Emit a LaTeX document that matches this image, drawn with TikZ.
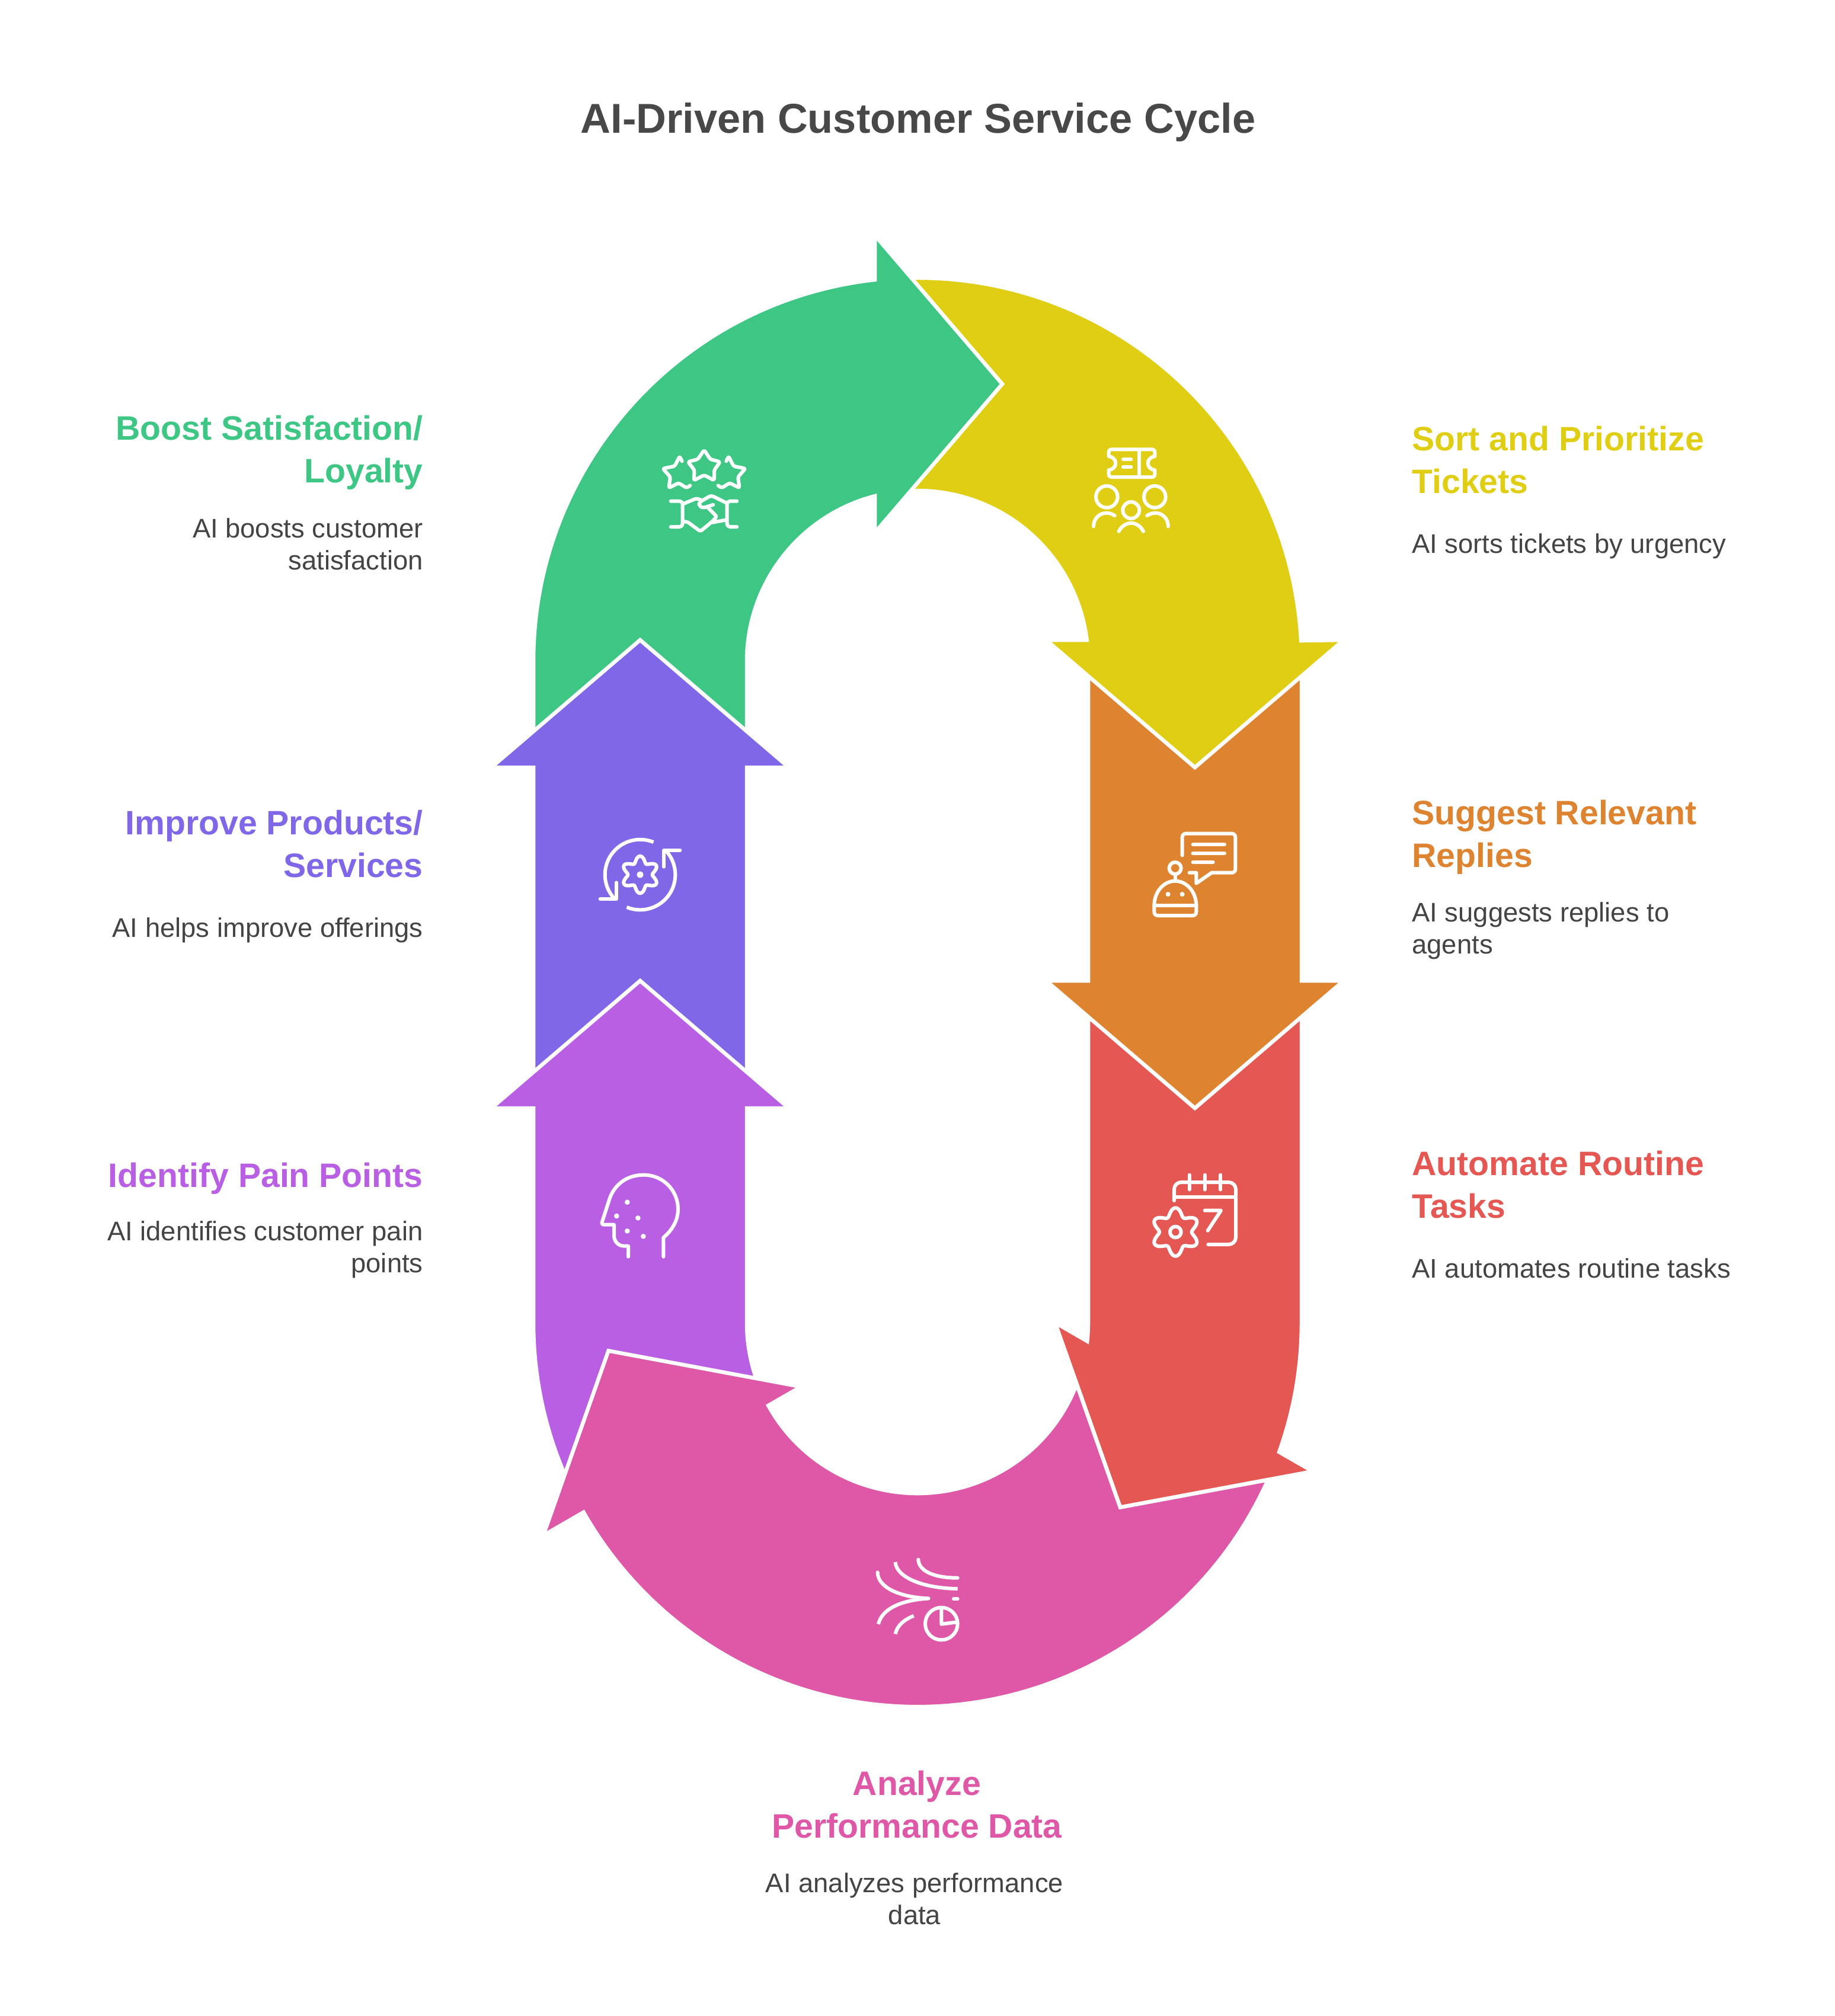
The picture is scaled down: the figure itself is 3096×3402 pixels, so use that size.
\documentclass[tikz,border=0pt]{standalone}
\usepackage{fontspec}
\setmainfont{Liberation Sans}
\definecolor{cgreen}{HTML}{3EC685}
\definecolor{cyellow}{HTML}{E0CE15}
\definecolor{corange}{HTML}{DE8431}
\definecolor{cred}{HTML}{E55753}
\definecolor{cpink}{HTML}{DE58A7}
\definecolor{cviolet}{HTML}{7F67E8}
\definecolor{cpurple}{HTML}{B85FE3}
\definecolor{ctitle}{HTML}{484848}
\definecolor{cbody}{HTML}{444444}
\newcommand{\hst}{\rule{0pt}{24pt}}
\newcommand{\bst}{\rule{0pt}{18pt}}
\tikzset{
  band/.style={draw=white,line width=3.25pt,line join=miter,miter limit=20},
  ttl/.style={font=\fontsize{35.2}{44}\selectfont\bfseries,text=ctitle,inner sep=0pt},
  headr/.style={font=\fontsize{28.6}{36}\selectfont\bfseries,align=right,anchor=north east,inner sep=0pt},
  headl/.style={font=\fontsize{28.6}{36}\selectfont\bfseries,align=left,anchor=north west,inner sep=0pt},
  headc/.style={font=\fontsize{28.6}{36}\selectfont\bfseries,align=center,anchor=north,inner sep=0pt},
  bodyr/.style={font=\fontsize{22.7}{27}\selectfont,text=cbody,align=right,anchor=north east,inner sep=0pt},
  bodyl/.style={font=\fontsize{22.7}{27}\selectfont,text=cbody,align=left,anchor=north west,inner sep=0pt},
  bodyc/.style={font=\fontsize{22.7}{27}\selectfont,text=cbody,align=center,anchor=north,inner sep=0pt},
  ico/.style={draw=white,line width=3pt,line cap=round,line join=round,fill=none},
  dot/.style={fill=white,draw=none},
  zoomcs/.style 2 args={shift={(#1,#2)},x=0.16667pt,y=-0.16667pt}
}
\newcommand{\geartrace}[4]{plot[domain=0:360,samples=145,smooth] ({#1+(#3+#4*cos(6*(\x-90)))*cos(\x)},{#2+(#3+#4*cos(6*(\x-90)))*sin(\x)})}
\begin{document}
\begin{tikzpicture}[x=0.5pt,y=-0.5pt]
\useasboundingbox (0,0) rectangle (3096,3402);
% red
\path[band,fill=cred] (1836,1685) -- (2196,1685) -- (2196,2232) arc[start angle=0,end angle=19.68,radius=648]
  -- (2214.9,2482.9) -- (1890,2543.6) -- (1780.1,2231.9) -- (1834.3,2263.2)
  arc[start angle=6.22,end angle=0,radius=288] -- cycle;
% orange
\path[band,fill=corange] (1836,1110) -- (2196,1110) -- (2196,1655) -- (2267,1655) -- (2016,1870) -- (1765,1655) -- (1836,1655) -- cycle;
% yellow
\path[band,fill=cyellow] (1519.9,469.6) arc[start angle=267.5,end angle=356.82,radius=648]
  -- (2267,1080) -- (2016,1295) -- (1765,1080) -- (1833.7,1080)
  arc[start angle=352.82,end angle=267.5,radius=288] -- cycle;
% green
\path[band,fill=cgreen] (900,1260) -- (900,1116) arc[start angle=180,end angle=263.62,radius=648]
  -- (1476,397) -- (1691,648) -- (1476,899) -- (1476,837.1)
  arc[start angle=255.52,end angle=180,radius=288] -- (1260,1260) -- cycle;
% violet
\path[band,fill=cviolet] (900,1840) -- (900,1295) -- (829,1295) -- (1080,1080) -- (1331,1295) -- (1260,1295) -- (1260,1840) -- cycle;
% purple
\path[band,fill=cpurple] (900,1870) -- (900,2232) arc[start angle=180,end angle=153,radius=648]
  -- (1291.4,2362.8) arc[start angle=153,end angle=180,radius=288]
  -- (1260,1870) -- (1331,1870) -- (1080,1655) -- (829,1870) -- cycle;
% pink
\path[band,fill=cpink] (2139.3,2497.2) arc[start angle=24.16,end angle=150.42,radius=648]
  -- (916.6,2591.1) -- (1026.5,2279.4) -- (1351.4,2340.1) -- (1296.3,2371.9)
  arc[start angle=150.93,end angle=21.14,radius=288] -- (1890,2543.6) -- cycle;

% ticket icon
\begin{scope}[zoomcs={1780}{700}]
\draw[ico] (288,175) -- (490,175) .. controls (500,175) and (505,180) .. (505,190) -- (505,210)
  .. controls (485,212) and (470,228) .. (470,245) .. controls (470,262) and (485,278) .. (505,280)
  -- (505,300) .. controls (505,310) and (500,315) .. (490,315) -- (288,315)
  .. controls (278,315) and (272,310) .. (272,300) -- (272,280)
  .. controls (292,278) and (307,262) .. (307,245) .. controls (307,228) and (292,212) .. (272,210)
  -- (272,190) .. controls (272,180) and (278,175) .. (288,175) -- cycle;
\draw[ico] (425,175) -- (425,315);
\draw[ico] (345,225) -- (385,225);
\draw[ico] (345,265) -- (385,265);
\draw[ico] (262,415) circle[radius=55];
\draw[ico] (505,415) circle[radius=55];
\draw[ico] (385,483) circle[radius=42];
\draw[ico] (195,565) .. controls (195,525) and (225,497) .. (260,497) .. controls (275,497) and (290,502) .. (302,510);
\draw[ico] (573,565) .. controls (573,525) and (543,497) .. (508,497) .. controls (493,497) and (478,502) .. (466,510);
\draw[ico] (323,590) .. controls (335,565) and (360,548) .. (385,548) .. controls (410,548) and (435,565) .. (447,590);
\end{scope}
% robot chat icon
\begin{scope}[zoomcs={1900}{1380}]
\draw[ico,rounded corners=3pt] (284,190) -- (284,80) -- (553,80) -- (553,278) -- (433,278);
\draw[ico] (433,278) -- (355,332) -- (355,278) -- (320,278);
\draw[ico] (338,135) -- (498,135);
\draw[ico] (338,180) -- (498,180);
\draw[ico] (338,225) -- (440,225);
\draw[ico] (248,255) circle[radius=30];
\draw[ico] (248,285) -- (248,320);
\draw[ico] (142,445) .. controls (142,375) and (190,320) .. (248,320) .. controls (306,320) and (355,375) .. (355,445);
\draw[ico,rounded corners=3pt] (142,445) -- (142,495) -- (355,495) -- (355,445);
\draw[ico] (142,445) -- (355,445);
\fill[dot] (212,387) circle[radius=12];
\fill[dot] (284,387) circle[radius=12];
\end{scope}
% calendar icon
\begin{scope}[zoomcs={1930}{1970}]
\draw[ico,rounded corners=6pt] (153,168) -- (153,75) -- (465,75) -- (465,390) -- (325,390);
\draw[ico] (230,38) -- (230,112);
\draw[ico] (308,38) -- (308,112);
\draw[ico] (388,38) -- (388,112);
\draw[ico] (153,150) -- (465,150);
\draw[ico] (308,218) -- (390,218) -- (323,320);
\draw[ico] \geartrace{160}{327}{102}{20} -- cycle;
\draw[ico] (160,327) circle[radius=28];
\end{scope}
% analysis icon
\begin{scope}[zoomcs={1460}{2620}]
\draw[ico] (62,100) .. controls (62,170) and (160,225) .. (320,232);
\draw[ico,line cap=butt] (320,232) .. controls (190,240) and (85,280) .. (66,362);
\draw[ico,line cap=butt] (152,48) .. controls (155,120) and (280,180) .. (467,183);
\draw[ico] (268,35) .. controls (270,90) and (340,128) .. (467,128);
\draw[ico,line cap=butt] (245,320) .. controls (195,340) and (160,370) .. (152,412);
\draw[ico] (447,235) -- (467,235);
\draw[ico] (385,360) circle[radius=82];
\draw[ico] (385,280) -- (385,362) -- (462,352);
\end{scope}
% head icon
\begin{scope}[zoomcs={1000}{1970}]
\draw[ico] (180,452) -- (180,398) -- (160,398) .. controls (130,398) and (108,375) .. (108,345)
  -- (108,290) -- (55,290) .. controls (48,290) and (45,285) .. (47,278)
  -- (85,160) .. controls (110,85) and (175,38) .. (258,38)
  .. controls (355,38) and (432,115) .. (432,212) .. controls (432,270) and (400,320) .. (358,355) -- (358,452);
\fill[dot] (175,176) circle[radius=13];
\fill[dot] (121,246) circle[radius=13];
\fill[dot] (229,256) circle[radius=13];
\fill[dot] (175,322) circle[radius=13];
\fill[dot] (256,349) circle[radius=13];
\end{scope}
% cycle gear icon
\begin{scope}[zoomcs={1000}{1390}]
\draw[ico,line cap=butt] (307.7,93.4) arc[start angle=292.3,end angle=139,radius=178];
\draw[ico] (120,298) -- (120,380) -- (38,380);
\draw[ico,line cap=butt] (172.2,422.6) arc[start angle=112.4,end angle=-44.5,radius=178];
\draw[ico] (360,218) -- (360,135) -- (442,135);
\draw[ico] \geartrace{240}{258}{78}{16} -- cycle;
\fill[dot] (240,258) circle[radius=17];
\end{scope}
% stars and handshake icon
\begin{scope}[zoomcs={1100}{740}]
\draw[ico,rounded corners=1.5pt] (264,58) -- (295,105) -- (345,118) -- (315,160) -- (315,212) -- (264,185) -- (212,212) -- (215,160) -- (182,118) -- (232,105) -- cycle;
\draw[ico,rounded corners=1.5pt] (152,115) -- (140,90) -- (115,140) -- (55,152) -- (93,195) -- (85,250) -- (135,225) -- (175,250) -- (193,238);
\draw[ico,rounded corners=1.5pt] (376,115) -- (388,90) -- (413,140) -- (473,152) -- (435,195) -- (443,250) -- (393,225) -- (353,250) -- (335,238);
\draw[ico,rounded corners=2.5pt] (95,317) -- (155,317) -- (155,447) -- (95,447);
\draw[ico,rounded corners=2.5pt] (430,317) -- (380,317) -- (380,447) -- (430,447);
\draw[ico,rounded corners=1.5pt] (160,330) -- (225,303) -- (245,310);
\draw[ico,rounded corners=2pt] (375,325) -- (300,288) -- (240,322) -- (238,340) -- (258,352) -- (310,335);
\draw[ico,rounded corners=1.5pt] (285,352) -- (328,395) -- (305,420) -- (245,470) -- (180,422) -- (160,420);
\draw[ico] (305,425) -- (375,412);
\end{scope}

% texts
\node[ttl] (title) at (1549,206) {AI-Driven Customer Service Cycle};
\node[headr,text=cgreen] (h1) at (714,694) {\hst Boost Satisfaction/\\Loyalty};
\node[bodyr] (b1) at (714,871) {\bst AI boosts customer\\satisfaction};
\node[headl,text=cyellow] (h2) at (2382,712) {\hst Sort and Prioritize\\Tickets};
\node[bodyl] (b2) at (2382,897) {\bst AI sorts tickets by urgency};
\node[headl,text=corange] (h3) at (2382,1343) {\hst Suggest Relevant\\Replies};
\node[bodyl] (b3) at (2382,1519) {\bst AI suggests replies to\\agents};
\node[headr,text=cviolet] (h4) at (714,1360) {\hst Improve Products/\\Services};
\node[bodyr] (b4) at (714,1545) {\bst AI helps improve offerings};
\node[headl,text=cred] (h5) at (2382,1935) {\hst Automate Routine\\Tasks};
\node[bodyl] (b5) at (2382,2120) {\bst AI automates routine tasks};
\node[headr,text=cpurple] (h6) at (714,1955) {\hst Identify Pain Points};
\node[bodyr] (b6) at (714,2057) {\bst AI identifies customer pain\\points};
\node[headc,text=cpink] (h7) at (1547,2981) {\hst Analyze\\Performance Data};
\node[bodyc] (b7) at (1543,3157) {\bst AI analyzes performance\\data};
\end{tikzpicture}
\end{document}
